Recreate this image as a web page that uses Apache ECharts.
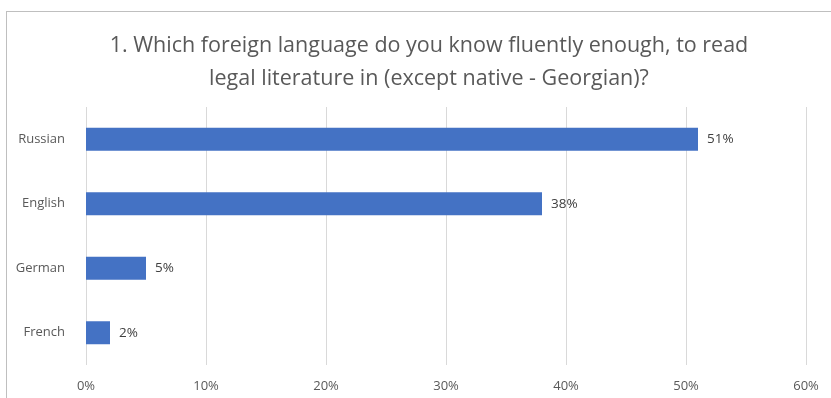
<!DOCTYPE html>
<html><head><meta charset="utf-8">
<script src="https://cdn.jsdelivr.net/npm/echarts@6/dist/echarts.min.js"></script>
<style>
html,body{margin:0;padding:0;background:#fff;}
#frame{position:absolute;left:6px;top:11px;width:900px;height:500px;border-top:1px solid #bfbfbf;border-left:1px solid #bfbfbf;}
#c{position:absolute;left:0;top:0;width:831px;height:398px;}
</style></head>
<body>
<div id="frame"></div>
<div id="c"></div>
<script>
const categories = ['Russian', 'English', 'German', 'French'];
const values = [51, 38, 5, 2];
const xTicks = [0, 10, 20, 30, 40, 50, 60];
const titleText = '1. Which foreign language do you know fluently enough, to read\nlegal literature in (except native - Georgian)?';

const chart = echarts.init(document.getElementById('c'), null, {renderer: 'canvas'});
chart.setOption({
  animation: false,
  backgroundColor: 'transparent',
  title: {
    text: titleText,
    left: 424, top: 24, textAlign: 'center',
    textStyle: {fontFamily: 'Open Sans', fontSize: 21.5, fontWeight: 'normal', color: '#595959', lineHeight: 33}
  },
  grid: {left: 86, right: 25, top: 107, bottom: 33, containLabel: false},
  xAxis: {
    type: 'value', min: xTicks[0], max: xTicks[xTicks.length - 1], interval: 10,
    axisLine: {show: false}, axisTick: {show: false},
    splitLine: {lineStyle: {color: '#d9d9d9', width: 1}},
    axisLabel: {formatter: '{value}%', color: '#595959', fontFamily: 'Open Sans', fontSize: 13, margin: 15}
  },
  yAxis: {
    type: 'category', data: categories, inverse: true,
    axisLine: {show: false}, axisTick: {show: false},
    axisLabel: {color: '#595959', fontFamily: 'Open Sans', fontSize: 13, margin: 21}
  },
  series: [{
    type: 'bar', data: values, barWidth: 23,
    itemStyle: {color: '#4472C4'},
    label: {show: true, position: 'right', distance: 9, formatter: '{c}%', color: '#404040', fontFamily: 'Open Sans', fontSize: 13.5}
  }]
});
</script>
</body></html>
